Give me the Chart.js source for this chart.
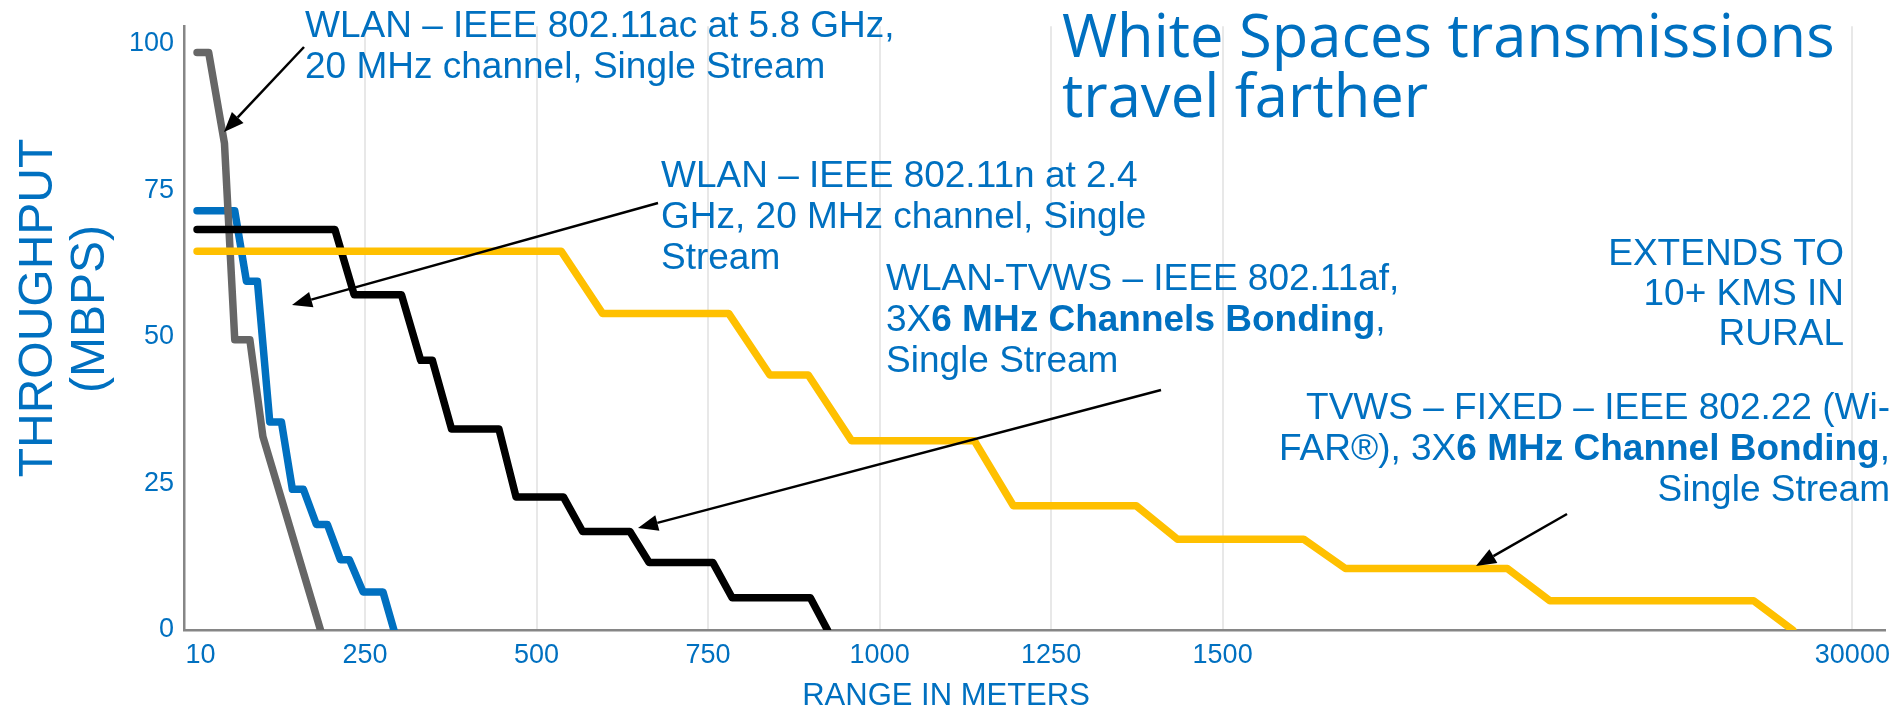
<!DOCTYPE html>
<html>
<head>
<meta charset="utf-8">
<script src="https://cdn.jsdelivr.net/npm/chart.js@4.4.1/dist/chart.umd.min.js"></script>
<style>
  html, body { margin: 0; padding: 0; background: #fff; }
</style>
</head>
<body>
<canvas id="grafica-alcance" width="1899" height="708"></canvas>
<script>
// rango (m, sobre el eje comprimido del grafico) y throughput (Mbps)
const grisX = [5, 22, 45, 60, 82, 101, 185];
const grisY = [98.5, 98.5, 83, 49.5, 49.5, 33, 0];

const azulX = [5, 60, 77, 93, 111, 128, 144, 160, 179, 195, 214, 227, 247, 276, 292];
const azulY = [71.5, 71.5, 59.5, 59.5, 35.5, 35.5, 24, 24, 18, 18, 12, 12, 6.5, 6.5, 0];

const negroX = [5, 206, 234, 303, 331, 348, 376, 445, 470, 539, 567, 636, 664, 757, 785, 899, 924];
const negroY = [68.3, 68.3, 57.2, 57.2, 46, 46, 34.3, 34.3, 22.7, 22.7, 16.8, 16.8, 11.5, 11.5, 5.5, 5.5, 0];

const amarilloX = [5, 536, 596, 780, 840, 896, 959, 1138, 1195, 1374, 1434, 1618, 1679, 1915, 1977, 2274, 2331];
const amarilloY = [64.6, 64.6, 54, 54, 43.5, 43.5, 32.3, 32.3, 21.2, 21.2, 15.5, 15.5, 10.5, 10.5, 5, 5, 0];

// marcas del eje x (la ultima se rotula 30000)
const xTickPos = [10, 250, 500, 750, 1000, 1250, 1500, 2418];
const xTickLabels = ['10', '250', '500', '750', '1000', '1250', '1500', '30000'];
const yTicks = [0, 25, 50, 75, 100];

const AZUL = '#0070C0';
const ARIAL = '"Liberation Sans", Arial, sans-serif';

// textos del grafico: [texto, negrita]
const notas = [
  { x: 305, y: 37, lh: 41, align: 'left', lineas: [
    [['WLAN – IEEE 802.11ac at 5.8 GHz,', 0]],
    [['20 MHz channel, Single Stream', 0]]
  ]},
  { x: 661, y: 187, lh: 41, align: 'left', lineas: [
    [['WLAN – IEEE 802.11n at 2.4', 0]],
    [['GHz, 20 MHz channel, Single', 0]],
    [['Stream', 0]]
  ]},
  { x: 886, y: 290, lh: 41, align: 'left', lineas: [
    [['WLAN-TVWS – IEEE 802.11af,', 0]],
    [['3X', 0], ['6 MHz Channels Bonding', 1], [',', 0]],
    [['Single Stream', 0]]
  ]},
  { x: 1844, y: 265, lh: 40, align: 'right', lineas: [
    [['EXTENDS TO', 0]],
    [['10+ KMS IN', 0]],
    [['RURAL', 0]]
  ]},
  { x: 1890, y: 419, lh: 41, align: 'right', lineas: [
    [['TVWS – FIXED – IEEE 802.22 (Wi-', 0]],
    [['FAR®), 3X', 0], ['6 MHz Channel Bonding', 1], [',', 0]],
    [['Single Stream', 0]]
  ]}
];

// flechas: [desde x, desde y, punta x, punta y]
const flechas = [
  [304, 47, 224, 132],
  [658, 203, 292, 305],
  [1161, 390, 638, 528],
  [1567, 514, 1476, 566]
];

function puntos(xs, ys) {
  return xs.map((x, i) => ({ x: x, y: ys[i] }));
}

function serie(xs, ys, color) {
  return {
    data: puntos(xs, ys),
    borderColor: color,
    borderWidth: 7.5,
    borderCapStyle: 'round',
    borderJoinStyle: 'round',
    pointRadius: 0,
    tension: 0,
    fill: false
  };
}

function flecha(ctx, x1, y1, x2, y2) {
  const ang = Math.atan2(y2 - y1, x2 - x1);
  const largo = 20, ancho = 8;
  const bx = x2 - largo * Math.cos(ang), by = y2 - largo * Math.sin(ang);
  ctx.beginPath();
  ctx.moveTo(x1, y1);
  ctx.lineTo(bx, by);
  ctx.stroke();
  ctx.beginPath();
  ctx.moveTo(x2, y2);
  ctx.lineTo(bx + ancho * Math.sin(ang), by - ancho * Math.cos(ang));
  ctx.lineTo(bx - ancho * Math.sin(ang), by + ancho * Math.cos(ang));
  ctx.closePath();
  ctx.fill();
}

function linea(ctx, segs, x, y, align) {
  const fuente = b => (b ? 'bold ' : '') + '37px ' + ARIAL;
  let total = 0;
  segs.forEach(s => { ctx.font = fuente(s[1]); total += ctx.measureText(s[0]).width; });
  let cx = align === 'right' ? x - total : x;
  ctx.textAlign = 'left';
  segs.forEach(s => {
    ctx.font = fuente(s[1]);
    ctx.fillText(s[0], cx, y);
    cx += ctx.measureText(s[0]).width;
  });
}

const anotaciones = {
  id: 'anotaciones',
  afterDraw(chart) {
    const ctx = chart.ctx;
    ctx.save();
    ctx.fillStyle = AZUL;
    ctx.textBaseline = 'alphabetic';

    // titulo, ajustado al ancho del original
    const familia = '"Open Sans", "Noto Sans", sans-serif';
    ctx.font = '64px ' + familia;
    const ancho = ctx.measureText('White Spaces transmissions').width;
    ctx.font = (64 * 773 / ancho).toFixed(1) + 'px ' + familia;
    ctx.textAlign = 'left';
    ctx.fillText('White Spaces transmissions', 1062, 57);
    ctx.fillText('travel farther', 1062, 117);

    // titulo eje y
    ctx.font = '48px ' + ARIAL;
    ctx.textAlign = 'center';
    [['THROUGHPUT', 52, 308], ['(MBPS)', 104, 309]].forEach(t => {
      ctx.save();
      ctx.translate(t[1], t[2]);
      ctx.rotate(-Math.PI / 2);
      ctx.fillText(t[0], 0, 0);
      ctx.restore();
    });

    // titulo eje x
    ctx.font = '31px ' + ARIAL;
    ctx.fillText('RANGE IN METERS', 946, 705);

    notas.forEach(n => {
      n.lineas.forEach((l, i) => linea(ctx, l, n.x, n.y + i * n.lh, n.align));
    });

    ctx.strokeStyle = '#000';
    ctx.fillStyle = '#000';
    ctx.lineWidth = 2.5;
    flechas.forEach(f => flecha(ctx, f[0], f[1], f[2], f[3]));
    ctx.restore();
  }
};

const grafica = document.getElementById('grafica-alcance');

new Chart(grafica, {
  type: 'line',
  data: {
    datasets: [
      serie(amarilloX, amarilloY, '#FFC000'),
      serie(negroX, negroY, '#000000'),
      serie(grisX, grisY, '#666666'),
      serie(azulX, azulY, AZUL)
    ]
  },
  options: {
    responsive: false,
    animation: false,
    layout: { padding: { left: 0, right: 4, top: 12, bottom: 0 } },
    plugins: {
      legend: { display: false },
      tooltip: { enabled: false }
    },
    scales: {
      x: {
        type: 'linear',
        min: -14,
        max: 2466,
        afterBuildTicks: s => { s.ticks = xTickPos.map(v => ({ value: v })); },
        afterFit: s => { s.height = 78; },
        ticks: {
          callback: (v, i) => xTickLabels[i],
          color: AZUL,
          font: { family: ARIAL, size: 27 },
          padding: 9,
          maxRotation: 0,
          autoSkip: false
        },
        grid: {
          color: c => (c.tick && c.tick.value === 10) ? 'rgba(0,0,0,0)' : '#e8e8e8',
          lineWidth: 2,
          drawTicks: false
        },
        border: { color: '#868686', width: 2.5 }
      },
      y: {
        min: 0,
        max: 103,
        afterBuildTicks: s => { s.ticks = yTicks.map(v => ({ value: v })); },
        afterFit: s => { s.width = 184; },
        ticks: {
          color: AZUL,
          font: { family: ARIAL, size: 27 },
          padding: 10
        },
        grid: { display: false, drawTicks: false },
        border: { color: '#868686', width: 2.5 }
      }
    }
  },
  plugins: [anotaciones]
});
</script>
</body>
</html>
